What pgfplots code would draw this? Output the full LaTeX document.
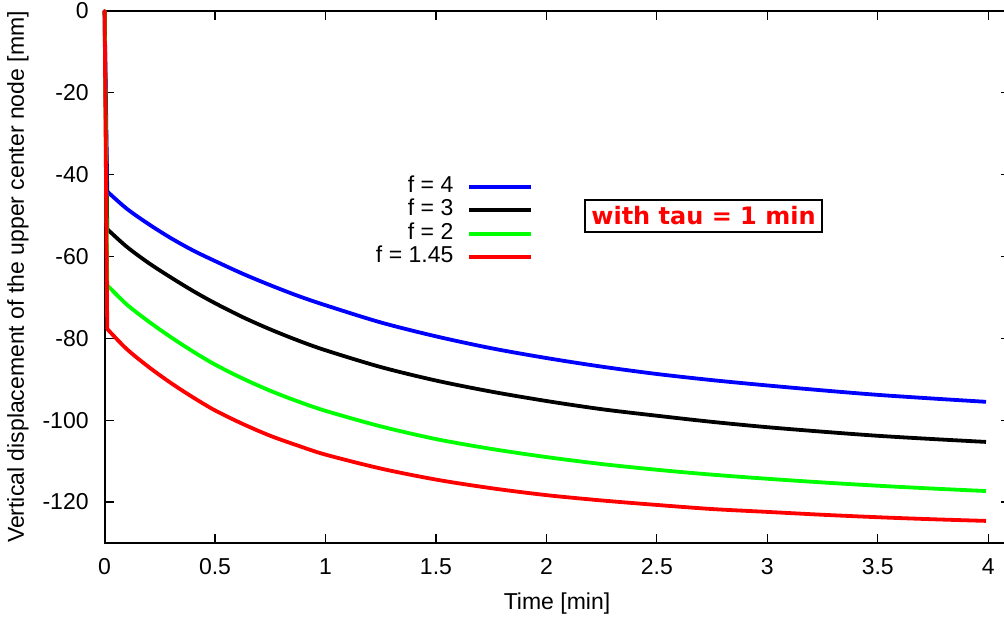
\documentclass[border=0pt]{standalone}
\usepackage{pgfplots}
\pgfplotsset{compat=1.18}
\usepackage{fontspec}
\setmainfont{Liberation Sans}
\newfontfamily\dejavu{DejaVu Sans}
\definecolor{gblue}{RGB}{0,0,255}
\definecolor{ggreen}{RGB}{0,255,0}
\definecolor{gred}{RGB}{255,0,0}
\begin{document}
\begin{tikzpicture}
\begin{axis}[
  at={(0,0)}, anchor=south west,
  scale only axis, width=452.85pt, height=266pt,
  xmin=0, xmax=4.1, ymin=-130, ymax=0,
  clip=false,
  xtick={0,0.5,...,4}, xticklabels={0,0.5,1,1.5,2,2.5,3,3.5,4},
  ytick={-120,-100,...,0}, yticklabels={-120,-100,-80,-60,-40,-20,0},
  tick label style={font=\fontsize{11.5}{13}\selectfont, inner sep=0pt},
  xticklabel style={anchor=base, yshift=-15.6pt},
  yticklabel style={anchor=east, xshift=-7.8pt},
  tick align=inside, major tick length=4.6pt,
  tick style={black, line width=0.6pt},
  axis line style={line width=1pt},
  xlabel={Time [min]},
  ylabel={Vertical displacement of the upper center node [mm]},
  label style={font=\fontsize{11.5}{13}\selectfont},
  xlabel style={at={(axis description cs:0.4995,-0.1147)}, anchor=center, inner sep=0pt},
  ylabel style={at={(axis description cs:-0.0956,0.5)}, anchor=center, inner sep=0pt},
  legend style={at={(axis cs:1.94,-39.95)}, anchor=north east, draw=none, fill=none,
    font=\fontsize{11.5}{13}\selectfont, inner sep=0pt, row sep=0pt, column sep=7pt,
    nodes={inner sep=0pt, text height=8.75pt, text depth=3pt}},
  legend cell align=right, legend plot pos=right,
  legend image code/.code={\draw (0pt,0pt) -- (30.8pt,0pt);},
  every axis plot/.append style={line width=1.9pt},
]
\addplot[gblue, forget plot, line cap=round] coordinates {(0,0)(0.012,-44.1)};
\addplot[gblue, smooth] coordinates {
(0.012,-44.1)(0.1,-48.3)(0.2,-52.1)(0.3,-55.5)(0.4,-58.5)(0.5,-61.1)(0.625,-64.2)
(0.75,-67.0)(0.875,-69.6)(1,-71.9)(1.25,-76.1)(1.5,-79.5)(1.75,-82.4)(2,-84.8)
(2.25,-86.9)(2.5,-88.7)(2.75,-90.2)(3,-91.5)(3.25,-92.7)(3.5,-93.8)(3.75,-94.7)(3.99,-95.5)};
\addplot[black, forget plot, line cap=round] coordinates {(0,0)(0.012,-53.3)};
\addplot[black, smooth] coordinates {
(0.012,-53.3)(0.1,-57.6)(0.2,-61.6)(0.3,-65.1)(0.4,-68.4)(0.5,-71.4)(0.625,-74.8)
(0.75,-77.8)(0.875,-80.5)(1,-82.9)(1.25,-87.0)(1.5,-90.3)(1.75,-93.0)(2,-95.3)
(2.25,-97.3)(2.5,-98.9)(2.75,-100.4)(3,-101.7)(3.25,-102.8)(3.5,-103.8)(3.75,-104.6)(3.99,-105.3)};
\addplot[ggreen, forget plot, line cap=round] coordinates {(0,0)(0.012,-67.0)};
\addplot[ggreen, smooth] coordinates {
(0.012,-67.0)(0.1,-71.7)(0.2,-75.9)(0.3,-79.7)(0.4,-83.2)(0.5,-86.4)(0.625,-89.8)
(0.75,-92.8)(0.875,-95.4)(1,-97.7)(1.25,-101.5)(1.5,-104.6)(1.75,-107.0)(2,-109.0)
(2.25,-110.7)(2.5,-112.1)(2.75,-113.3)(3,-114.3)(3.25,-115.2)(3.5,-116.0)(3.75,-116.7)(3.99,-117.3)};
\addplot[gred, forget plot, line cap=round] coordinates {(0,0)(0.012,-77.7)};
\addplot[gred, smooth] coordinates {
(0.012,-77.7)(0.1,-82.6)(0.2,-87.0)(0.3,-90.9)(0.4,-94.4)(0.5,-97.6)(0.625,-100.9)
(0.75,-103.8)(0.875,-106.2)(1,-108.4)(1.25,-111.8)(1.5,-114.5)(1.75,-116.6)(2,-118.3)
(2.25,-119.6)(2.5,-120.7)(2.75,-121.7)(3,-122.4)(3.25,-123.1)(3.5,-123.7)(3.75,-124.2)(3.99,-124.6)};
\legend{f = 4, f = 3, f = 2, f = 1.45}
\node[draw, line width=0.8pt, minimum width=118.5pt, minimum height=16pt, inner sep=0pt,
  text=gred, font=\dejavu\bfseries\fontsize{12}{14}\selectfont] at (axis cs:2.711,-50.1) {with tau = 1 min};
\end{axis}
\pgfresetboundingbox
\useasboundingbox (-52.3pt,-39pt) rectangle (449.7pt,271.5pt);
\end{tikzpicture}
\end{document}
